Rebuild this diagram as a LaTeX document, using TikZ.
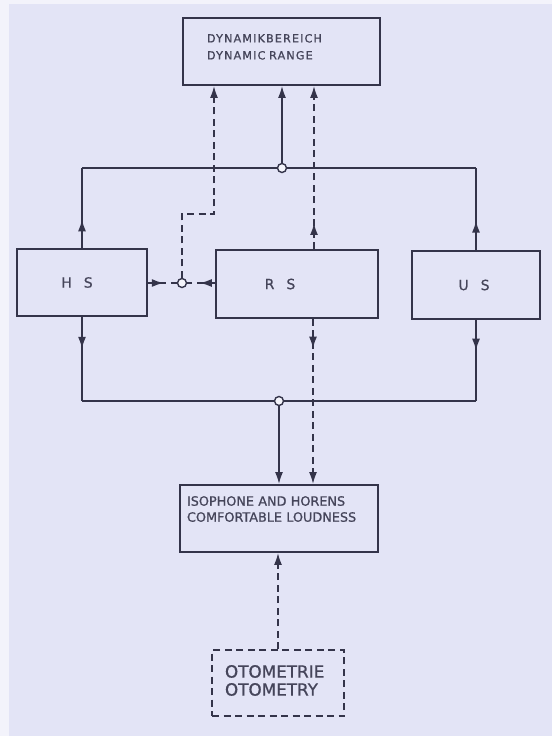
\documentclass[tikz,border=0pt]{standalone}
\usepackage{fontspec}
\newfontfamily\lettering[FakeBold=0.8]{DejaVu Sans}
\newfontfamily\widelettering[LetterSpace=10, FakeBold=0.8]{DejaVu Sans}
\usetikzlibrary{arrows.meta, positioning, calc, decorations.markings}
\definecolor{paper}{HTML}{E3E4F6}
\definecolor{paperedge}{HTML}{F3F3FB}
\definecolor{ink}{HTML}{34344A}
\definecolor{inktext}{HTML}{45455A}
\tikzset{
  sysbox/.style={rectangle, draw=ink, line width=1.8pt, inner sep=0pt,
    text=inktext},
  junction/.style={circle, draw=ink, fill=paper!40!white, line width=1.4pt,
    minimum size=9pt, inner sep=0pt},
  dashline/.style={dash pattern=on 7pt off 4.5pt},
  midarrow/.style={postaction={decorate, decoration={markings,
    mark=at position #1 with {\arrow{Latex[length=12pt, width=8pt]}}}}},
}

\begin{document}
\begin{tikzpicture}[x=1pt, y=-1pt, line width=1.8pt, draw=ink,
                    >={Latex[length=12pt, width=8pt]}]
  % paper
  \fill[paperedge] (0,0) rectangle (552,736);
  \fill[paper] (9,4) rectangle (552,736);

  % blocks
  \node[sysbox, minimum width=197pt, minimum height=67pt, text width=149pt,
        inner xsep=24pt, align=left,
        font={\widelettering\fontsize{11.2}{17}\selectfont}]
    (dyn) at (281.5,51.5)
    {\raisebox{4pt}[\height][\depth]{\begin{tabular}{@{}l@{}}DYNAMIKBEREICH\\DYNAMIC RANGE\end{tabular}}};
  \node[sysbox, minimum width=130pt, minimum height=67pt,
        font={\lettering\fontsize{14}{16}\selectfont}]
    (hs) at (82,282.5) {H\hspace{12pt}S\hspace*{10pt}};
  \node[sysbox, minimum width=162pt, minimum height=68pt,
        font={\lettering\fontsize{14}{16}\selectfont}]
    (rs) at (297,284) {R\hspace{12pt}S\hspace*{34pt}};
  \node[sysbox, minimum width=128pt, minimum height=68pt,
        font={\lettering\fontsize{14}{16}\selectfont}]
    (us) at (476,285) {U\hspace{12pt}S\hspace*{4pt}};
  \node[sysbox, minimum width=198pt, minimum height=67pt, text width=184pt,
        inner xsep=7pt, align=left,
        font={\lettering\fontsize{12.8}{16}\selectfont}]
    (iso) at (279,518.5)
    {\raisebox{8pt}[\height][\depth]{\begin{tabular}{@{}l@{}}ISOPHONE AND HORENS\\COMFORTABLE LOUDNESS\end{tabular}}};
  \node[sysbox, dashline, minimum width=132pt, minimum height=66pt,
        text width=106pt, inner xsep=13pt, align=left,
        font={\lettering\fontsize{16.8}{18}\selectfont}]
    (oto) at (278,683)
    {\begin{tabular}{@{}l@{}}OTOMETRIE\\OTOMETRY\end{tabular}};

  % junctions
  \node[junction] (jtop) at (282,168) {};
  \node[junction] (jbot) at (279,401) {};
  \node[junction] (jmid) at (182,283) {};
  \coordinate (rsup) at ([xshift=17pt]rs.north);
  \coordinate (rsdn) at ([xshift=16pt]rs.south);
  \coordinate (dynleft) at ([xshift=-67.5pt]dyn.south);
  \coordinate (bend) at (214,214);

  % upper bus
  \draw[midarrow=0.36] (hs.north) -- (hs.north |- jtop);
  \draw[midarrow=0.36] (us.north) -- (us.north |- jtop);
  \draw (hs.north |- jtop) -- (jtop);
  \draw (jtop) -- (us.north |- jtop);
  \draw[->] (jtop) -- (jtop |- dyn.south);
  \draw[dashline, ->, midarrow=0.16] (rsup) -- (rsup |- dyn.south);

  % side channel to the dynamic range
  \draw[dashline, midarrow=0.55] (hs.east |- jmid) -- (jmid);
  \draw[dashline, midarrow=0.55] (rs.west |- jmid) -- (jmid);
  \draw[dashline, ->] (jmid) |- (bend) -- (dynleft);

  % lower bus
  \draw[midarrow=0.38] (hs.south) -- (hs.south |- jbot);
  \draw[midarrow=0.38] (us.south) -- (us.south |- jbot);
  \draw (hs.south |- jbot) -- (jbot);
  \draw (jbot) -- (us.south |- jbot);
  \draw[->] (jbot) -- (jbot |- iso.north);
  \draw[dashline, ->, midarrow=0.18] (rsdn) -- (rsdn |- iso.north);

  % otometry
  \draw[dashline, ->] (oto.north) -- (oto.north |- iso.south);
\end{tikzpicture}
\end{document}
